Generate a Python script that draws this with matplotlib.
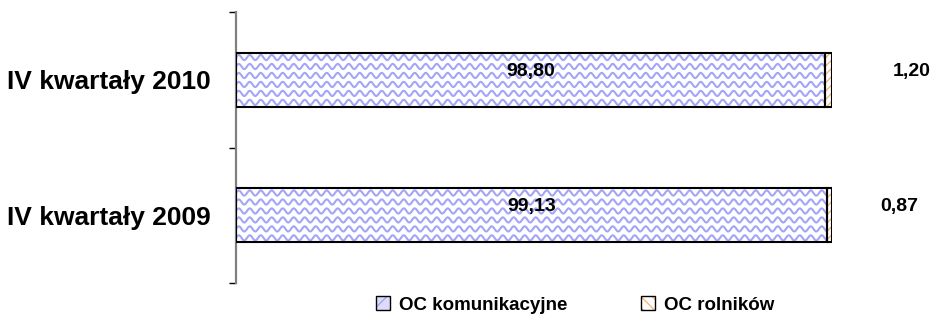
import numpy as np
import matplotlib.pyplot as plt
from matplotlib.patches import Patch
from matplotlib.ticker import FixedLocator

plt.rcParams['font.family'] = ['Liberation Sans', 'DejaVu Sans']
plt.rcParams['font.weight'] = 'bold'

# dane (udzial w %)
categories = ["IV kwartały 2009", "IV kwartały 2010"]
oc_komunikacyjne = [99.13, 98.80]
oc_rolnikow = [0.87, 1.20]
labels_kom = ["99,13", "98,80"]
labels_rol = ["0,87", "1,20"]
series_names = ["OC komunikacyjne", "OC rolników"]

wave_color = '#a4a4f8'
orange = '#f9b679'

fig = plt.figure(figsize=(9.38, 3.24), dpi=100)
ax = fig.add_axes([236 / 938, 1 - 283 / 324, 596 / 938, 271 / 324])
ax.set_xlim(0, 100)
ax.set_ylim(-0.5, 1.5)

y = np.arange(len(categories))
h = 0.4

bars1 = ax.barh(y, oc_komunikacyjne, height=h, color='white', edgecolor='black', linewidth=1.5, zorder=2)
ax.barh(y, oc_rolnikow, left=oc_komunikacyjne, height=h, color='white', edgecolor=orange,
        hatch='////', linewidth=0, zorder=2)
ax.barh(y, oc_rolnikow, left=oc_komunikacyjne, height=h, fill=False, edgecolor='black',
        linewidth=1.5, zorder=4)

# falisty wzor na pierwszej serii
px_x = 596 / 100.0
px_y = 136.0
period = 11 / px_x
amp = 2.6 / px_y
step = 9 / px_y
for bar in bars1:
    x0, y0 = bar.get_x(), bar.get_y()
    w, hh = bar.get_width(), bar.get_height()
    xs = np.linspace(x0, x0 + w, 1200)
    for yy in np.arange(y0 + step / 2, y0 + hh + step, step):
        line, = ax.plot(xs, yy + amp * np.sin(2 * np.pi * xs / period), color=wave_color,
                        lw=1.5, zorder=3)
        line.set_clip_path(bar)
    bar.set_zorder(4)
    bar.set_facecolor('none')
ax.barh(y, oc_komunikacyjne, height=h, color='white', edgecolor='none', zorder=1)

# etykiety wartosci
for i in range(len(categories)):
    ax.annotate(labels_kom[i], (oc_komunikacyjne[i] / 2, y[i]), xytext=(0, 6), textcoords='offset points',
                ha='center', va='center', fontsize=14, fontweight='bold', zorder=5)
label_x_rol = [111.2, 113.3]
for i in range(len(categories)):
    ax.annotate(labels_rol[i], (label_x_rol[i], y[i]), xytext=(0, 6), textcoords='offset points',
                ha='center', va='center', fontsize=14, fontweight='bold', annotation_clip=False)

ax.set_yticks(y)
ax.set_yticklabels(categories, fontsize=19, fontweight='bold')
ax.tick_params(axis='y', which='major', length=0, pad=18)
ax.yaxis.set_minor_locator(FixedLocator([-0.5, 0.5, 1.5]))
ax.tick_params(axis='y', which='minor', length=5, width=1, direction='out', color='black')
ax.xaxis.set_visible(False)
for s in ['top', 'right', 'bottom']:
    ax.spines[s].set_visible(False)
ax.spines['left'].set_color('#808080')
ax.spines['left'].set_linewidth(1.6)

# legenda
h1 = (Patch(facecolor='#dcdcfa', edgecolor=wave_color, hatch='//', linewidth=0),
      Patch(fill=False, edgecolor='black', linewidth=1))
h2 = (Patch(facecolor='white', edgecolor=orange, hatch='\\\\\\', linewidth=0),
      Patch(fill=False, edgecolor='black', linewidth=1))
fig.legend([h1, h2], series_names, loc='center', bbox_to_anchor=(575 / 938, 1 - 305 / 324),
           ncol=2, frameon=False, handlelength=0.75, handleheight=0.75,
           handletextpad=0.5, columnspacing=3.9, prop={'weight': 'bold', 'size': 13.5})

fig.savefig('out.png', dpi=100)
